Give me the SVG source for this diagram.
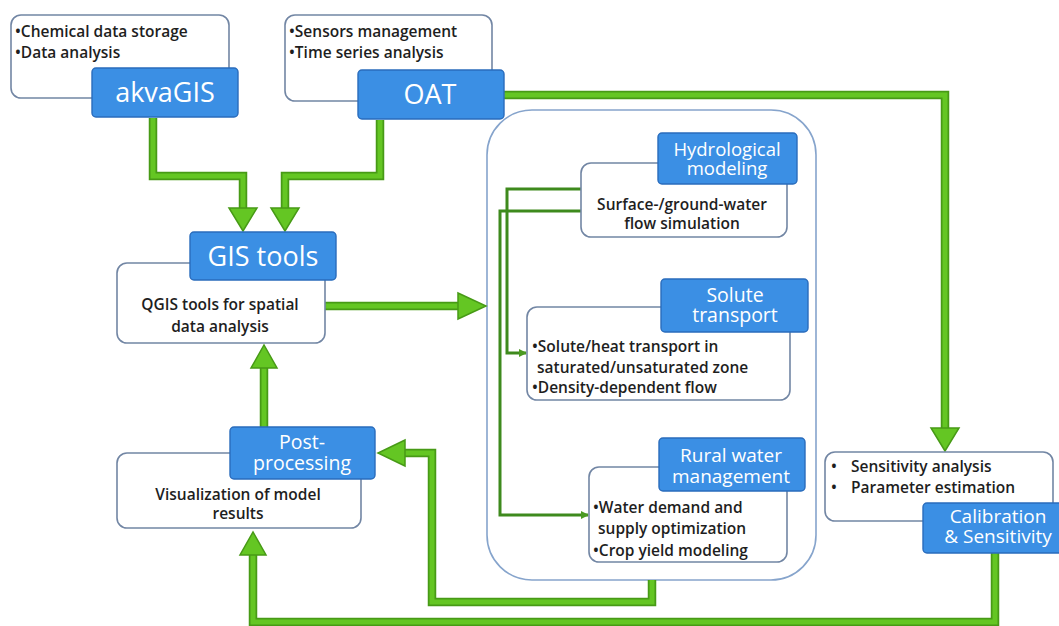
<svg xmlns="http://www.w3.org/2000/svg" width="1059" height="626" viewBox="0 0 1059 626">
<defs>
<style>
.desc{fill:#fff;stroke:#7286a4;stroke-width:1.6}
.cont{fill:#fff;stroke:#86a4cc;stroke-width:1.6}
.blue{fill:#3b8fe4;stroke:#2a6cbc;stroke-width:1.4}
.bt{font-family:"Open Sans",Lato,sans-serif;fill:#fff;text-anchor:middle}
.dt{font-family:"Open Sans",Lato,sans-serif;font-weight:600;font-size:15.5px;fill:#1e1e1e}
.dtc{font-family:"Open Sans",Lato,sans-serif;font-weight:600;font-size:15.5px;fill:#1e1e1e;text-anchor:middle}
.lo{fill:none;stroke:#479a16;stroke-width:8.5}
.li{fill:none;stroke:#64c623;stroke-width:5}
.ah{fill:#64c623;stroke:#479a16;stroke-width:1.5;stroke-linejoin:miter}
.thin{fill:none;stroke:#3e8a1d;stroke-width:3}
</style>
<marker id="sa" markerWidth="8" markerHeight="8" refX="7" refY="4" orient="auto" markerUnits="userSpaceOnUse">
<path d="M0,0 L8,4 L0,8 Z" fill="#4b9a22"/>
</marker>
</defs>
<rect width="1059" height="626" fill="#fff"/>

<g id="container">
<rect class="cont" x="487" y="110" width="329" height="470" rx="45"/>
</g>

<g id="connectors">
<path class="lo" d="M153 118 V176 H243 V209"/>
<path class="lo" d="M380 120 V176 H285 V209"/>
<path class="lo" d="M504 95 H945 V429"/>
<path class="lo" d="M325 306 H459"/>
<path class="lo" d="M264 427 V367"/>
<path class="lo" d="M652 580 V602 H432 V453 H404"/>
<path class="lo" d="M995 553 V622 H253 V554"/>
<path class="li" d="M153 118 V176 H243 V209"/>
<path class="li" d="M380 120 V176 H285 V209"/>
<path class="li" d="M504 95 H945 V429"/>
<path class="li" d="M325 306 H459"/>
<path class="li" d="M264 427 V367"/>
<path class="li" d="M652 580 V602 H432 V453 H404"/>
<path class="li" d="M995 553 V622 H253 V554"/>
<polygon class="ah" points="229,208 257,208 243,231"/>
<polygon class="ah" points="271,208 299,208 285,231"/>
<polygon class="ah" points="931,428 959,428 945,451"/>
<polygon class="ah" points="458,293 458,319 486,306"/>
<polygon class="ah" points="251,368 277,368 264,345"/>
<polygon class="ah" points="405,440 405,466 378,453"/>
<polygon class="ah" points="240,555 266,555 253,532"/>
<path class="thin" d="M581 189 H507 V353 H526" marker-end="url(#sa)"/>
<path class="thin" d="M581 211 H500 V515 H588" marker-end="url(#sa)"/>
</g>

<g id="akvagis">
<rect class="desc" x="11" y="15" width="218" height="83" rx="10"/>
<text class="dt" x="15" y="37">•Chemical data storage</text>
<text class="dt" x="15" y="58">•Data analysis</text>
<rect class="blue" x="92" y="68" width="146" height="49" rx="4"/>
<text class="bt" x="165" y="102" font-size="27">akvaGIS</text>
</g>

<g id="oat">
<rect class="desc" x="285" y="15" width="207" height="86" rx="10"/>
<text class="dt" x="289" y="37">•Sensors management</text>
<text class="dt" x="289" y="58">•Time series analysis</text>
<rect class="blue" x="358" y="70" width="146" height="49" rx="4"/>
<text class="bt" x="430" y="104" font-size="27">OAT</text>
</g>

<g id="gis">
<rect class="desc" x="117" y="263" width="208" height="80" rx="10"/>
<text class="dtc" x="220" y="310">QGIS tools for spatial</text>
<text class="dtc" x="220" y="332">data analysis</text>
<rect class="blue" x="190" y="232" width="146" height="48" rx="4"/>
<text class="bt" x="263" y="266" font-size="27">GIS tools</text>
</g>

<g id="post">
<rect class="desc" x="117" y="453" width="244" height="75" rx="10"/>
<text class="dtc" x="238" y="500">Visualization of model</text>
<text class="dtc" x="238" y="519">results</text>
<rect class="blue" x="230" y="427" width="145" height="52" rx="4"/>
<text class="bt" x="302" y="449" font-size="19.5">Post-</text>
<text class="bt" x="302" y="470" font-size="19.5">processing</text>
</g>

<g id="hydro">
<rect class="desc" x="581" y="163" width="206" height="74" rx="10"/>
<text class="dtc" x="682" y="210">Surface-/ground-water</text>
<text class="dtc" x="682" y="229">flow simulation</text>
<rect class="blue" x="658" y="133" width="139" height="51" rx="4"/>
<text class="bt" x="727" y="156" font-size="18.5">Hydrological</text>
<text class="bt" x="727" y="175" font-size="18.5">modeling</text>
</g>

<g id="solute">
<rect class="desc" x="527" y="307" width="263" height="93" rx="10"/>
<text class="dt" x="532" y="352">•Solute/heat transport in</text>
<text class="dt" x="537" y="373">saturated/unsaturated zone</text>
<text class="dt" x="532" y="393">•Density-dependent flow</text>
<rect class="blue" x="661" y="279" width="147" height="53" rx="4"/>
<text class="bt" x="735" y="302" font-size="19.5">Solute</text>
<text class="bt" x="735" y="322" font-size="19.5">transport</text>
</g>

<g id="rural">
<rect class="desc" x="589" y="467" width="198" height="95" rx="10"/>
<text class="dt" x="593" y="513">•Water demand and</text>
<text class="dt" x="598" y="534">supply optimization</text>
<text class="dt" x="593" y="556">•Crop yield modeling</text>
<rect class="blue" x="659" y="438" width="146" height="53" rx="4"/>
<text class="bt" x="731" y="462" font-size="19">Rural water</text>
<text class="bt" x="731" y="483" font-size="19">management</text>
</g>

<g id="calibration">
<rect class="desc" x="825" y="452" width="228" height="69" rx="10"/>
<text class="dt" x="831" y="472">•</text>
<text class="dt" x="851" y="472">Sensitivity analysis</text>
<text class="dt" x="831" y="493">•</text>
<text class="dt" x="851" y="493">Parameter estimation</text>
<rect class="blue" x="923" y="503" width="150" height="50" rx="4"/>
<text class="bt" x="998" y="523" font-size="19">Calibration</text>
<text class="bt" x="998" y="543" font-size="19">&amp; Sensitivity</text>
</g>
</svg>
